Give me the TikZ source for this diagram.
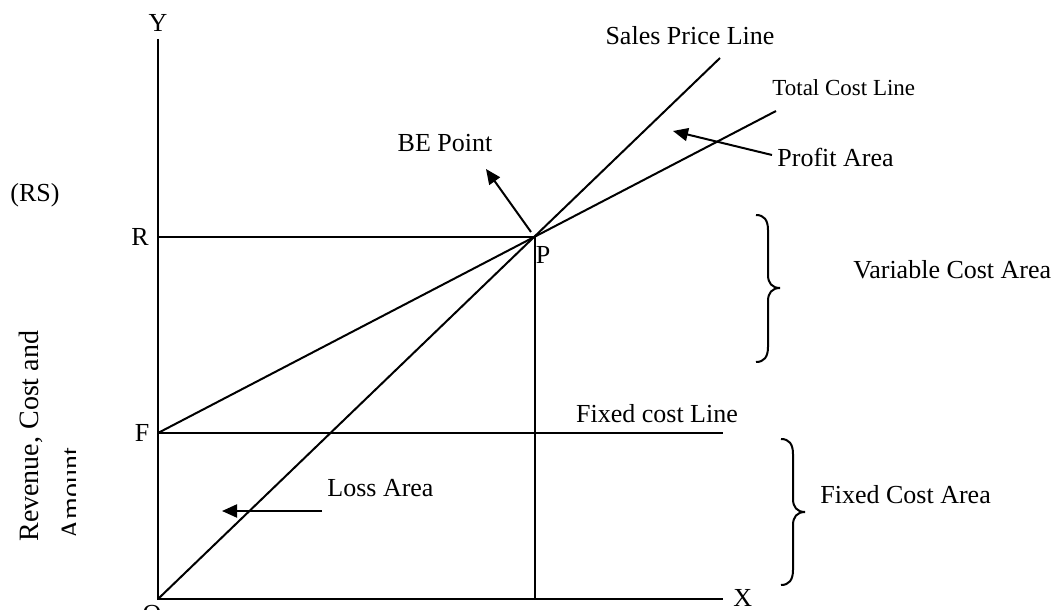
\documentclass[tikz,border=0pt]{standalone}
\usepackage{fontspec}
\setmainfont{Liberation Serif}
\usetikzlibrary{arrows.meta}
\begin{document}
\begin{tikzpicture}[x=0.5pt,y=-0.5pt,
  line/.style={line width=1pt},
  pointer/.style={line width=1pt,-{Triangle[length=7.5pt,width=6.5pt]}},
  lbl/.style={inner sep=0pt,font=\fontsize{13}{15}\selectfont},
  small/.style={inner sep=0pt,font=\fontsize{11.5}{14}\selectfont},
  axistext/.style={inner sep=0pt,font=\fontsize{14}{17}\selectfont,rotate=90,anchor=base west},
  bracket/.style={line width=1pt}]
\useasboundingbox (0,0) rectangle (1061,610);

% key points of the chart
\coordinate (O) at (158,599);
\coordinate (Ytop) at (158,39);
\coordinate (Xend) at (723,599);
\coordinate (R) at (158,237);
\coordinate (P) at (535,237);
\coordinate (Pfoot) at (535,599);
\coordinate (F) at (158,433);
\coordinate (Fend) at (723,433);
\coordinate (Send) at (720,58);
\coordinate (Tend) at (776,111);

% axes
\draw[line] (Ytop) -- (O) -- (Xend);
% break-even guides
\draw[line] (R) -- (P) -- (Pfoot);
% fixed cost line
\draw[line] (F) -- (Fend);
% sales price line
\draw[line] (O) -- (Send);
% total cost line
\draw[line] (F) -- (Tend);

% axis and point labels
\node[lbl] (ylab) at (158,23) {Y};
\node[lbl,anchor=west] (xlab) at (733,598) {X};
\node[lbl,anchor=north] (olab) at (152,605) {O};
\node[lbl] (rlab) at (140,237) {R};
\node[lbl] (flab) at (142,433) {F};
\node[lbl] (plab) at (543,255) {P};
\node[lbl] (rs) at (35,195) {(RS)};

% vertical axis title, second line cut off
\node[axistext] (axis1) at (39,542) {Revenue, Cost and};
\begin{scope}
  \clip (50,300) rectangle (75,600);
  \node[axistext] (axis2) at (80,540) {Amount};
\end{scope}

% line names
\node[lbl] (sales) at (690,36) {Sales Price Line};
\node[small,anchor=west] (total) at (772,88) {Total Cost Line};
\node[lbl] (fixl) at (657,414) {Fixed cost Line};

% area annotations
\node[lbl] (be) at (445,143) {BE Point};
\node[lbl,anchor=west] (profit) at (777,157) {Profit Area};
\node[lbl,anchor=west] (var) at (853,270) {Variable Cost Area};
\node[lbl,anchor=west] (fixa) at (820,495) {Fixed Cost Area};
\node[lbl,anchor=west] (loss) at (327,488) {Loss Area};

% pointers
\coordinate (beTail) at (531,232);
\coordinate (beTip) at (486,169);
\draw[pointer] (beTail) -- (beTip);
\coordinate (profTail) at (772,155);
\coordinate (profTip) at (673,131);
\draw[pointer] (profTail) -- (profTip);
\coordinate (lossTail) at (322,511);
\coordinate (lossTip) at (222,511);
\draw[pointer] (lossTail) -- (lossTip);

% variable cost brace
\draw[bracket] (756,215) .. controls (764,215) and (768,220) .. (768,230)
  -- (768,275) .. controls (768,283) and (772,288) .. (780,288)
  .. controls (772,288) and (768,293) .. (768,301)
  -- (768,347) .. controls (768,357) and (764,362) .. (756,362);

% fixed cost brace
\draw[bracket] (781,439) .. controls (789,439) and (793,444) .. (793,454)
  -- (793,499) .. controls (793,507) and (797,512) .. (805,512)
  .. controls (797,512) and (793,517) .. (793,525)
  -- (793,570) .. controls (793,580) and (789,585) .. (781,585);
\end{tikzpicture}
\end{document}
